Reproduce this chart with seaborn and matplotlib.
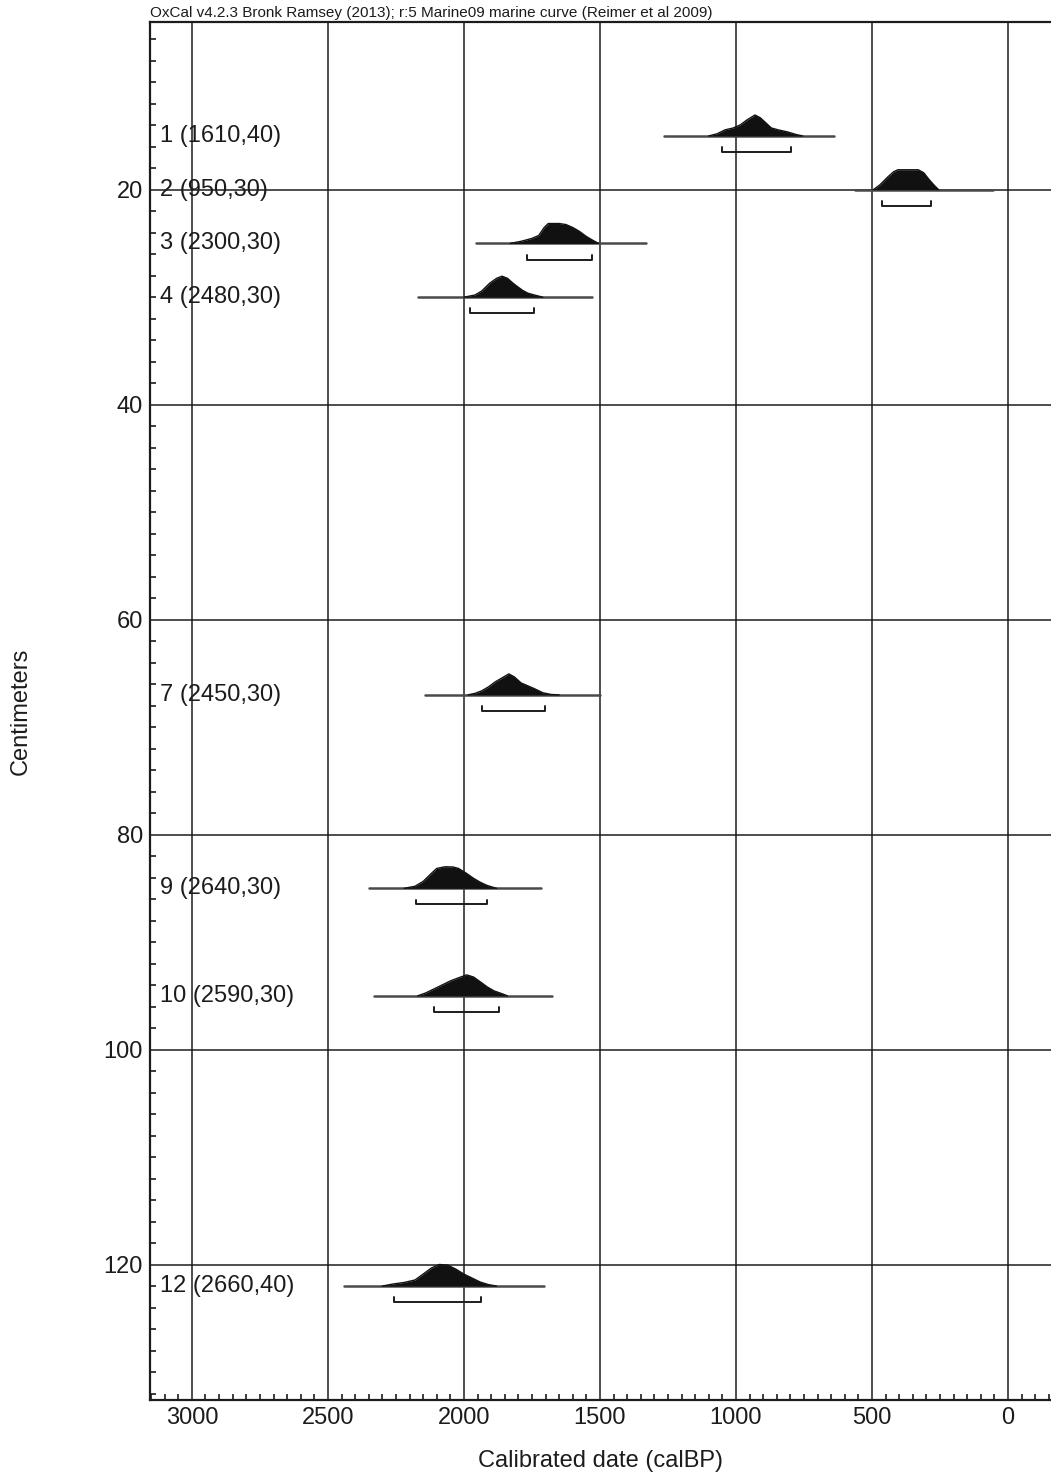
import matplotlib
matplotlib.use("Agg")
import matplotlib.pyplot as plt
import seaborn as sns
from matplotlib.ticker import MultipleLocator
from matplotlib.transforms import blended_transform_factory

# Radiocarbon samples: label (lab date, error) and core depth in cm
sample_labels = ["1 (1610,40)", "2 (950,30)", "3 (2300,30)", "4 (2480,30)",
                 "7 (2450,30)", "9 (2640,30)", "10 (2590,30)", "12 (2660,40)"]
sample_depths = [15, 20, 25, 30, 67, 85, 95, 122]

# Extent of each calibration baseline (cal BP)
range_start = [1265, 562, 1956, 2169, 2143, 2349, 2331, 2441]
range_end = [640, 55, 1331, 1529, 1500, 1717, 1676, 1706]

# 95.4% ranges shown as brackets (cal BP)
hpd_start = [1051, 463, 1768, 1978, 1934, 2176, 2110, 2257]
hpd_end = [798, 283, 1529, 1743, 1702, 1915, 1871, 1938]

# Calibrated probability distributions (relative probability)
s1_years = [1100, 1070, 1040, 1010, 985, 960, 930, 910, 890, 870, 845, 810, 780, 755]
s1_prob = [0, .10, .29, .38, .52, .76, 1.0, .86, .62, .38, .29, .19, .07, 0]
s2_years = [495, 470, 445, 420, 405, 330, 310, 290, 270, 255]
s2_prob = [0, .24, .57, .86, .95, .95, .81, .48, .19, 0]
s3_years = [1830, 1790, 1750, 1725, 1705, 1690, 1650, 1625, 1600, 1575, 1550, 1525, 1505]
s3_prob = [0, .10, .24, .38, .76, .95, .95, .90, .76, .57, .33, .14, 0]
s4_years = [2000, 1960, 1935, 1905, 1880, 1860, 1840, 1820, 1805, 1785, 1765, 1740, 1710]
s4_prob = [0, .10, .29, .67, .90, 1.0, .90, .67, .52, .33, .19, .10, 0]
s7_years = [1985, 1960, 1935, 1910, 1885, 1860, 1835, 1815, 1790, 1765, 1740, 1710, 1680, 1650]
s7_prob = [0, .07, .19, .38, .62, .81, 1.0, .86, .57, .43, .29, .10, .02, 0]
s9_years = [2220, 2180, 2150, 2120, 2100, 2070, 2040, 2020, 1990, 1965, 1940, 1915, 1880]
s9_prob = [0, .10, .33, .71, .95, 1.03, 1.02, .95, .71, .48, .29, .14, 0]
s10_years = [2170, 2140, 2110, 2080, 2050, 2020, 1990, 1965, 1940, 1915, 1890, 1860, 1840]
s10_prob = [0, .14, .33, .52, .71, .86, 1.0, .90, .67, .43, .24, .10, 0]
s12_years = [2300, 2260, 2220, 2180, 2150, 2120, 2090, 2060, 2030, 2000, 1970, 1940, 1910, 1880]
s12_prob = [0, .10, .17, .29, .57, .86, 1.03, 1.0, .81, .57, .38, .19, .07, 0]

dist_years = [s1_years, s2_years, s3_years, s4_years, s7_years, s9_years, s10_years, s12_years]
dist_prob = [s1_prob, s2_prob, s3_prob, s4_prob, s7_prob, s9_prob, s10_prob, s12_prob]

x_major = [3000, 2500, 2000, 1500, 1000, 500, 0]
y_major = [20, 40, 60, 80, 100, 120]

sns.set_theme(style="ticks")
plt.rcParams["font.family"] = ["Liberation Sans", "DejaVu Sans"]

fig = plt.figure(figsize=(10.51, 14.75), dpi=100)
ax = fig.add_axes([150 / 1051, 1 - 1400 / 1475, 901 / 1051, 1378 / 1475])

peak_height = 1.95   # cm of depth used for a relative probability of 1
bracket_gap = 1.5
bracket_tick = 0.45
ink = "#1c1c1c"

for i, depth in enumerate(sample_depths):
    years = dist_years[i]
    prob = dist_prob[i]
    top = [depth - p * peak_height for p in prob]
    ax.fill_between(years, depth, top, color="#111111", lw=0, zorder=3)
    sns.lineplot(x=years, y=top, ax=ax, color="#111111", lw=1.0,
                 sort=False, estimator=None, zorder=3)
    sns.lineplot(x=[range_start[i], range_end[i]], y=[depth, depth], ax=ax,
                 color="#4a4a4a", lw=1.8, sort=False, estimator=None, zorder=2)
    yb = depth + bracket_gap
    sns.lineplot(x=[hpd_start[i], hpd_start[i], hpd_end[i], hpd_end[i]],
                 y=[yb - bracket_tick, yb, yb, yb - bracket_tick], ax=ax,
                 color=ink, lw=1.4, sort=False, estimator=None, zorder=3)

label_tr = blended_transform_factory(ax.transAxes, ax.transData)
for label, depth in zip(sample_labels, sample_depths):
    ax.text(0.011, depth, label, transform=label_tr, ha="left", va="center",
            fontsize=17, color=ink, zorder=1)

ax.set_xlim(3154, -158)
ax.set_ylim(132.6, 4.4)

ax.set_xticks(x_major)
ax.set_xticklabels([str(v) for v in x_major])
ax.set_yticks(y_major)
ax.set_yticklabels([str(v) for v in y_major])
ax.xaxis.set_minor_locator(MultipleLocator(50))
ax.yaxis.set_minor_locator(MultipleLocator(2))
ax.tick_params(which="major", length=0, labelsize=17, colors=ink)
ax.tick_params(axis="x", which="major", pad=5)
ax.tick_params(axis="y", which="major", pad=5)
ax.tick_params(which="minor", direction="in", length=4.5, width=1.2, color=ink)

ax.grid(True, which="major", color=ink, lw=1.1)
ax.set_axisbelow(True)

for side in ["left", "bottom", "top"]:
    ax.spines[side].set_color(ink)
    ax.spines[side].set_linewidth(1.6)
ax.spines["right"].set_visible(False)

ax.set_xlabel("Calibrated date (calBP)", fontsize=17, color=ink)
ax.set_ylabel("Centimeters", fontsize=17, color=ink)
ax.xaxis.set_label_coords(0.5, -0.036)
ax.yaxis.set_label_coords(-0.131, 0.5)

fig.text(150 / 1051, 1 - 17 / 1475,
         "OxCal v4.2.3 Bronk Ramsey (2013); r:5 Marine09 marine curve (Reimer et al 2009)",
         fontsize=11, ha="left", va="baseline", color=ink)

fig.savefig("out.png", dpi=100)
